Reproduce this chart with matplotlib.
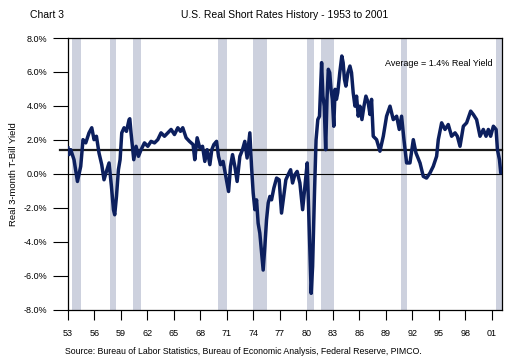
import matplotlib
matplotlib.use('Agg')
import matplotlib.pyplot as plt
import matplotlib.transforms as mtransforms

plt.rcParams['font.family'] = ['Liberation Sans', 'DejaVu Sans']

# real 3-month T-bill yield (%)
years = [1953.00, 1953.11, 1953.31, 1953.68, 1954.07, 1954.44, 1954.70, 1955.01, 1955.38, 1955.69,
         1955.95, 1956.22, 1956.51, 1956.82, 1957.08, 1957.35, 1957.65, 1957.92, 1958.15, 1958.29,
         1958.49, 1958.71, 1958.90, 1959.09, 1959.35, 1959.62, 1959.92, 1960.00, 1960.14, 1960.45,
         1960.71, 1960.98, 1961.28, 1961.66, 1962.04, 1962.41, 1962.80, 1963.17, 1963.54, 1963.93,
         1964.30, 1964.68, 1965.06, 1965.44, 1965.74, 1966.00, 1966.38, 1966.76, 1967.17, 1967.36,
         1967.63, 1967.93, 1968.24, 1968.50, 1968.76, 1969.07, 1969.29, 1969.52, 1969.83, 1970.05,
         1970.28, 1970.57, 1970.88, 1971.19, 1971.41, 1971.64, 1971.90, 1972.16, 1972.47, 1972.77,
         1973.03, 1973.29, 1973.60, 1973.79, 1973.98, 1974.17, 1974.36, 1974.54, 1974.73, 1974.93,
         1975.11, 1975.30, 1975.49, 1975.68, 1975.87, 1976.06, 1976.32, 1976.63, 1976.92, 1977.19,
         1977.38, 1977.68, 1977.94, 1978.22, 1978.44, 1978.70, 1978.96, 1979.27, 1979.58, 1979.76,
         1979.95, 1980.10, 1980.26, 1980.40, 1980.55, 1980.71, 1980.92, 1981.10, 1981.30, 1981.49,
         1981.73, 1981.88, 1982.03, 1982.19, 1982.34, 1982.49, 1982.65, 1982.80, 1982.95, 1983.11,
         1983.26, 1983.41, 1983.56, 1983.79, 1984.02, 1984.17, 1984.32, 1984.48, 1984.71, 1984.94,
         1985.12, 1985.31, 1985.51, 1985.69, 1985.88, 1986.07, 1986.30, 1986.53, 1986.75, 1987.01,
         1987.21, 1987.39, 1987.58, 1987.96, 1988.34, 1988.72, 1989.09, 1989.48, 1989.85, 1990.23,
         1990.53, 1990.79, 1991.06, 1991.36, 1991.74, 1992.12, 1992.42, 1992.88, 1993.25, 1993.62,
         1994.01, 1994.38, 1994.76, 1994.95, 1995.33, 1995.71, 1996.08, 1996.46, 1996.85, 1997.11,
         1997.41, 1997.79, 1998.16, 1998.62, 1998.92, 1999.29, 1999.68, 2000.05, 2000.36, 2000.62,
         2000.88, 2001.19, 2001.50, 2001.65, 2001.88, 2002.03, 2002.13]
real_yield = [1.53, 1.14, 1.43, 0.84, -0.44, 0.45, 2.02, 1.83, 2.42, 2.72,
              2.02, 2.22, 1.24, 0.55, -0.34, 0.15, 0.65, -0.73, -2.10, -2.40,
              -1.32, 0.25, 0.84, 2.42, 2.72, 2.51, 3.20, 3.25, 2.42, 0.84,
              1.63, 1.04, 1.43, 1.83, 1.63, 1.92, 1.83, 2.02, 2.42, 2.22,
              2.42, 2.62, 2.32, 2.72, 2.51, 2.72, 2.13, 1.92, 1.73, 0.84,
              2.13, 1.53, 1.63, 0.74, 1.43, 0.55, 1.43, 1.73, 1.92, 1.04,
              0.55, 0.74, -0.14, -1.03, 0.45, 1.14, 0.45, -0.44, 1.04, 1.43,
              1.92, 0.94, 2.42, 0.45, -1.12, -2.10, -1.52, -2.90, -3.48, -4.66,
              -5.65, -4.27, -2.70, -1.71, -1.32, -1.52, -0.83, -0.24, -0.34, -2.30,
              -1.52, -0.34, -0.04, 0.25, -0.53, -0.04, 0.15, -0.53, -2.10, -1.12,
              -0.14, 0.65, -2.10, -4.47, -7.02, -5.45, -1.20, 2.00, 3.20, 3.40,
              6.55, 4.58, 3.99, 1.43, 4.39, 6.16, 5.96, 4.98, 4.39, 2.81,
              4.98, 4.39, 4.78, 5.96, 6.94, 6.55, 5.57, 5.17, 5.96, 6.35,
              5.96, 4.78, 3.99, 4.58, 3.40, 3.99, 3.20, 3.99, 4.58, 4.19,
              3.50, 4.39, 2.22, 2.02, 1.34, 2.22, 3.40, 3.99, 3.20, 3.40,
              2.62, 3.40, 2.02, 0.65, 0.65, 2.02, 1.24, 0.65, -0.14, -0.24,
              0.06, 0.45, 1.04, 2.02, 3.01, 2.62, 2.91, 2.22, 2.42, 2.22,
              1.63, 2.81, 3.01, 3.70, 3.50, 3.20, 2.22, 2.62, 2.22, 2.62,
              2.22, 2.81, 2.62, 1.43, 0.84, 0.06, 0.15]

# recession bands (start, end)
rec_start = [1953.50, 1957.73, 1960.34, 1969.97, 1973.94, 1980.06, 1981.65, 1990.71, 2001.46]
rec_end = [1954.52, 1958.49, 1961.32, 1970.96, 1975.49, 1980.82, 1983.12, 1991.39, 2002.17]

avg_yield = 1.4
xticks = list(range(1953, 2002, 3))
xlabels = ['%02d' % (y % 100) for y in xticks]
yticks = list(range(-8, 9, 2))

fig = plt.figure(figsize=(5.16, 3.64), dpi=100)
ax = fig.add_axes([0.1318, 0.1484, 0.8411, 0.7472])

for s, e in zip(rec_start, rec_end):
    ax.axvspan(s, e, color='#CDD1DE', lw=0, zorder=1)

ax.axhline(0, color='black', lw=0.8, zorder=2)
trans = mtransforms.blended_transform_factory(ax.transAxes, ax.transData)
ax.plot([-0.018, 1], [avg_yield, avg_yield], color='#1a1a1a', lw=1.6,
        transform=trans, clip_on=False, zorder=2)

ax.plot(years, real_yield, color='#0C1F5E', lw=2.5, zorder=3)

ax.set_xlim(1953, 2002.17)
ax.set_ylim(-8, 8)
ax.set_xticks(xticks)
ax.set_xticklabels(xlabels)
ax.set_yticks(yticks)
ax.set_yticklabels(['%.1f%%' % v for v in yticks])
ax.tick_params(axis='x', direction='out', length=7, pad=7, labelsize=6.5, width=0.8)
ax.tick_params(axis='y', direction='out', length=11, pad=4, labelsize=6.5, width=0.8)
for sp in ax.spines.values():
    sp.set_linewidth(0.9)

ax.set_ylabel('Real 3-month T-Bill Yield', fontsize=6.8, labelpad=4)
ax.text(0.979, 0.908, 'Average = 1.4% Real Yield', transform=ax.transAxes,
        ha='right', va='center', fontsize=6.5)

fig.text(30 / 516, 1 - 15 / 364, 'Chart 3', fontsize=7.5, va='center')
fig.text(285 / 516, 1 - 15 / 364, 'U.S. Real Short Rates History - 1953 to 2001',
         fontsize=7.5, ha='center', va='center')
fig.text(65 / 516, 1 - 351 / 364,
         'Source: Bureau of Labor Statistics, Bureau of Economic Analysis, Federal Reserve, PIMCO.',
         fontsize=6.3, va='center')

fig.savefig('out.png', dpi=100)
